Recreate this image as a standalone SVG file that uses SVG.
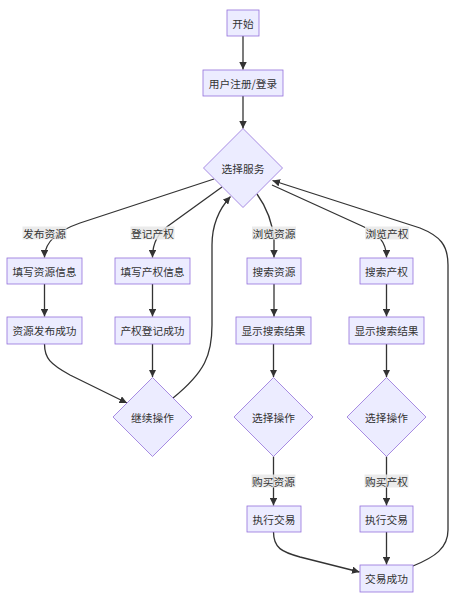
<svg xmlns="http://www.w3.org/2000/svg" width="460" height="604" viewBox="0 0 460 604">
<style>
.n rect,.n polygon{fill:#ECECFF;stroke:#9370DB;stroke-width:0.8}
text{font-family:"Noto Sans CJK SC","Noto Sans",sans-serif;font-size:10.7px;fill:#333;text-anchor:middle;dominant-baseline:central}
.e path{fill:none;stroke:#333;stroke-width:1.3;marker-end:url(#arr)}
.lb rect{fill:#E8E8E8;opacity:0.85}
</style>
<defs>
<marker id="arr" viewBox="0 0 10 10" refX="10" refY="5" markerWidth="7.5" markerHeight="7.5" markerUnits="userSpaceOnUse" orient="auto">
<path d="M0,0 L10,5 L0,10 z" fill="#333"/>
</marker>
</defs>
<rect width="460" height="604" fill="#fff"/>
<g id="connectors" class="e">
<path d="M243,36 L243,69.5"/>
<path d="M243,96 L243,128.5"/>
<path d="M214,179 L80,223 C60,230 44.5,240 44.5,257.5"/>
<path d="M222,187 L168,226 C158,233 152.5,242 152.5,257.5"/>
<path d="M173,398 C205,372 212,355 212,325 L212,245 C212,225 220,208 230.5,196.5"/>
<path d="M257,194 Q272,215 274,240 L274,257.5"/>
<path d="M272,185 L362,226 C378,233 386.5,242 386.5,257.5"/>
<path d="M44.5,284 L44.5,316.5"/>
<path d="M152.5,284 L152.5,316.5"/>
<path d="M274,284 L274,316.5"/>
<path d="M386.5,284 L386.5,316.5"/>
<path d="M44.5,344 C44.5,358 50,364 70,375 L127,403"/>
<path d="M152.5,344 L152.5,377"/>
<path d="M273.5,344 L273.5,377"/>
<path d="M386.5,344 L386.5,377"/>
<path d="M273.5,456.5 L273.5,505.5"/>
<path d="M386.5,456.5 L386.5,505.5"/>
<path d="M273.5,532 C273.5,548 282,552 300,557 L359.5,572"/>
<path d="M386.5,532 L386.5,564.5"/>
<path d="M413,566 C435,557 448,548 448,530 L448,265 C448,245 440,236 420,228 L272.5,180.5"/>
</g>
<g id="edge-labels" class="lb">
<rect x="22.5" y="226.5" width="44" height="13"/><text x="44.5" y="233">发布资源</text>
<rect x="130.5" y="226.5" width="44" height="13"/><text x="152.5" y="233">登记产权</text>
<rect x="252" y="226.5" width="44" height="13"/><text x="274" y="233">浏览资源</text>
<rect x="365" y="226.5" width="44" height="13"/><text x="387" y="233">浏览产权</text>
<rect x="251.5" y="474.5" width="44" height="13"/><text x="273.5" y="481">购买资源</text>
<rect x="364.5" y="474.5" width="44" height="13"/><text x="386.5" y="481">购买产权</text>
</g>
<g id="start" class="n"><rect x="227" y="10" width="32" height="26"/><text x="243" y="23">开始</text></g>
<g id="login" class="n"><rect x="203" y="70" width="80" height="26"/><text x="243" y="83">用户注册/登录</text></g>
<g id="select-service" class="n"><polygon points="243,128.5 282.5,168 243,207.5 203.5,168"/><text x="243" y="168">选择服务</text></g>
<g id="fill-resource" class="n"><rect x="7" y="258" width="75" height="26"/><text x="44.5" y="271">填写资源信息</text></g>
<g id="fill-property" class="n"><rect x="115" y="258" width="75" height="26"/><text x="152.5" y="271">填写产权信息</text></g>
<g id="search-resource" class="n"><rect x="247" y="258" width="54" height="26"/><text x="274" y="271">搜索资源</text></g>
<g id="search-property" class="n"><rect x="360" y="258" width="53" height="26"/><text x="386.5" y="271">搜索产权</text></g>
<g id="resource-published" class="n"><rect x="7" y="317" width="75" height="27"/><text x="44.5" y="330.5">资源发布成功</text></g>
<g id="property-registered" class="n"><rect x="115" y="317" width="75" height="27"/><text x="152.5" y="330.5">产权登记成功</text></g>
<g id="show-results-1" class="n"><rect x="236" y="317" width="75" height="27"/><text x="273.5" y="330.5">显示搜索结果</text></g>
<g id="show-results-2" class="n"><rect x="349" y="317" width="75" height="27"/><text x="386.5" y="330.5">显示搜索结果</text></g>
<g id="continue" class="n"><polygon points="152.5,377.5 192,417 152.5,456.5 113,417"/><text x="152.5" y="417">继续操作</text></g>
<g id="choose-op-1" class="n"><polygon points="273.5,377.5 313,417 273.5,456.5 234,417"/><text x="273.5" y="417">选择操作</text></g>
<g id="choose-op-2" class="n"><polygon points="386.5,377.5 426,417 386.5,456.5 347,417"/><text x="386.5" y="417">选择操作</text></g>
<g id="trade-1" class="n"><rect x="247" y="506" width="54" height="26"/><text x="274" y="519">执行交易</text></g>
<g id="trade-2" class="n"><rect x="360" y="506" width="53" height="26"/><text x="386.5" y="519">执行交易</text></g>
<g id="trade-success" class="n"><rect x="360" y="565" width="53" height="27"/><text x="386.5" y="578.5">交易成功</text></g>
</svg>
